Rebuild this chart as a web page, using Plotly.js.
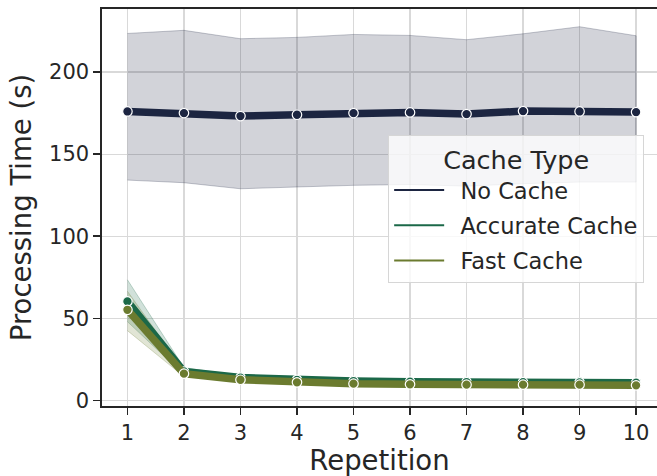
<!DOCTYPE html>
<html>
<head>
<meta charset="utf-8">
<script src="https://cdn.plot.ly/plotly-3.0.1.min.js"></script>
<style>html,body{margin:0;padding:0;background:#fff;}#chart{width:657px;height:476px;}</style>
</head>
<body>
<div id="chart"></div>
<script>
const repetitions = [1, 2, 3, 4, 5, 6, 7, 8, 9, 10];
const seriesNames = ["No Cache", "Accurate Cache", "Fast Cache"];

const noCacheMean  = [176.0, 175.0, 173.2, 174.0, 175.0, 175.4, 174.4, 176.2, 176.0, 175.6];
const noCacheUpper = [223.5, 225.4, 220.3, 221.1, 222.9, 222.3, 219.7, 223.3, 227.6, 222.1];
const noCacheLower = [134.2, 132.6, 128.9, 130.0, 131.0, 131.5, 130.5, 132.0, 133.0, 133.0];

const accurateMean  = [60.3, 17.6, 13.9, 12.5, 11.8, 11.4, 11.2, 11.1, 11.0, 10.8];
const accurateUpper = [73.5, 20.0, 14.8, 13.3, 12.5, 12.1, 11.9, 11.8, 11.7, 11.5];
const accurateLower = [48.0, 15.6, 13.0, 11.7, 11.1, 10.7, 10.5, 10.4, 10.3, 10.1];

const fastMean  = [55.2, 16.3, 12.6, 11.0, 10.2, 9.8, 9.6, 9.6, 9.6, 9.2];
const fastUpper = [66.5, 18.2, 13.5, 11.8, 10.9, 10.5, 10.3, 10.3, 10.3, 9.9];
const fastLower = [42.5, 14.5, 11.7, 10.2, 9.5, 9.1, 8.9, 8.9, 8.9, 8.5];

const yTicks = [0, 50, 100, 150, 200];

const colors = ["#1c2541", "#1b6848", "#6b7b2f"];
const bandFill = ["rgba(28,37,65,0.2)", "rgba(27,104,72,0.2)", "rgba(107,123,47,0.2)"];
const bandLine = ["rgba(28,37,65,0.25)", "rgba(27,104,72,0.25)", "rgba(107,123,47,0.25)"];

const means = [noCacheMean, accurateMean, fastMean];
const uppers = [noCacheUpper, accurateUpper, fastUpper];
const lowers = [noCacheLower, accurateLower, fastLower];

const traces = [];
for (let i = 0; i < 3; i++) {
  traces.push({
    x: repetitions.concat(repetitions.slice().reverse()),
    y: uppers[i].concat(lowers[i].slice().reverse()),
    type: "scatter", mode: "lines", fill: "toself",
    fillcolor: bandFill[i], line: {color: bandLine[i], width: 1},
    showlegend: false, hoverinfo: "skip"
  });
}
for (let i = 0; i < 3; i++) {
  traces.push({
    x: repetitions, y: means[i], type: "scatter", mode: "lines+markers",
    line: {color: colors[i], width: 7.5},
    marker: {color: colors[i], size: 9.5, line: {color: "#ffffff", width: 1.2}},
    showlegend: false
  });
}
for (let i = 0; i < 3; i++) {
  traces.push({
    x: [null], y: [null], type: "scatter", mode: "lines", name: "\u2002" + seriesNames[i],
    line: {color: colors[i], width: 2}, legendgroup: "g" + i, showlegend: true
  });
}

const layout = {
  width: 657, height: 476,
  margin: {l: 102.3, r: 0, t: 9.3, b: 69.7},
  paper_bgcolor: "#ffffff", plot_bgcolor: "#ffffff",
  font: {family: "DejaVu Sans", color: "#262626"},
  showlegend: true,
  xaxis: {
    range: [0.55, 10.37], tickvals: repetitions, ticktext: repetitions.map(String),
    showgrid: true, gridcolor: "#d9d9d9", gridwidth: 1.2, zeroline: false,
    showline: true, linecolor: "#262626", linewidth: 1.6, mirror: true,
    ticks: "outside", ticklen: 7, tickwidth: 1.5, tickcolor: "#262626",
    tickfont: {size: 21, color: "#262626"},
    title: {text: "Repetition", font: {size: 27.5, color: "#262626"}, standoff: 6}
  },
  yaxis: {
    range: [-3.4, 238.4], tickvals: yTicks,
    showgrid: true, gridcolor: "#d9d9d9", gridwidth: 1.2, zeroline: false,
    showline: true, linecolor: "#262626", linewidth: 1.6,
    ticks: "outside", ticklen: 7, tickwidth: 1.5, tickcolor: "#262626",
    tickfont: {size: 21, color: "#262626"},
    title: {text: "Processing Time (s)", font: {size: 27.5, color: "#262626"}, standoff: 9}
  },
  legend: {
    x: 0.5156, y: 0.683, xanchor: "left", yanchor: "top",
    bgcolor: "rgba(255,255,255,0.8)", bordercolor: "#d6d6d6", borderwidth: 1,
    font: {size: 22.5, color: "#262626"},
    title: {text: "Cache Type", side: "top center", font: {size: 25.5, color: "#262626"}},
    tracegroupgap: 3, itemwidth: 50
  }
};

Plotly.newPlot("chart", traces, layout, {displayModeBar: false, staticPlot: true});
</script>
</body>
</html>
